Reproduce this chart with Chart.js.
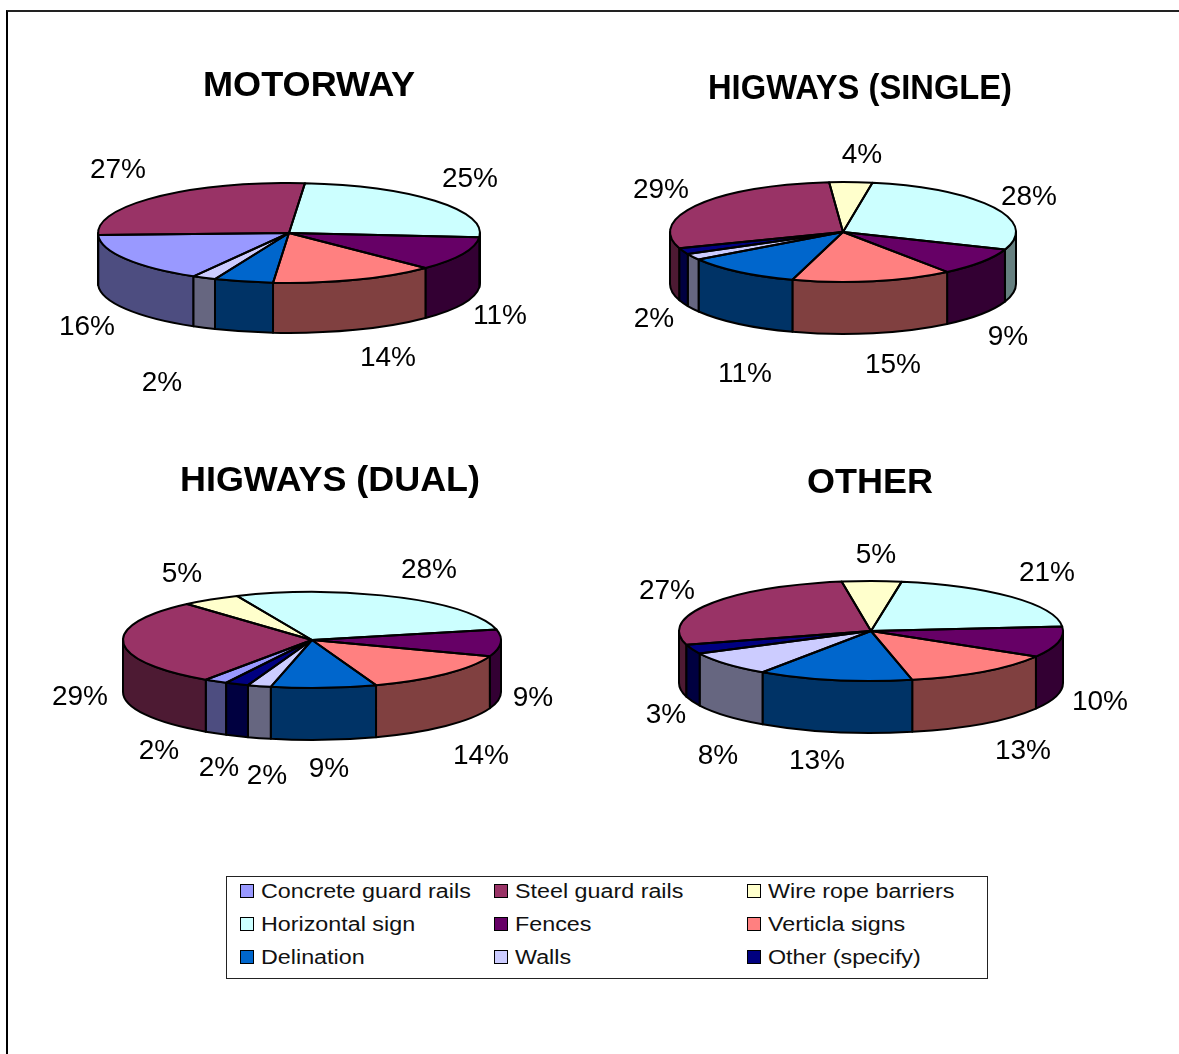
<!DOCTYPE html>
<html>
<head>
<meta charset="utf-8">
<title>Road safety equipment by road type</title>
<script src="https://cdn.jsdelivr.net/npm/chart.js@4"></script>
<style>
  html, body { margin: 0; padding: 0; background: #fff; width: 1179px; height: 1054px; overflow: hidden; }
  #frame { position: absolute; left: 6px; top: 10px; right: 0; bottom: 0; border-left: 2px solid #000; border-top: 2px solid #222; }
  canvas { position: absolute; }
  #legend { position: absolute; left: 226px; top: 876px; width: 760px; height: 101px; border: 1px solid #222; background: #fff; font-family: "Liberation Sans", Arial, sans-serif; color: #111; }
  .key { position: absolute; width: 12px; height: 12px; border: 1px solid #000; }
  .name { position: absolute; font-size: 20px; line-height: 22px; white-space: nowrap; transform-origin: left center; transform: scaleX(1.165); }
</style>
</head>
<body>
<div id="frame"></div>
<canvas id="pie0"></canvas>
<canvas id="pie1"></canvas>
<canvas id="pie2"></canvas>
<canvas id="pie3"></canvas>
<div id="legend"></div>
<script>
// Equipment categories, in series order
const categories = ["Concrete guard rails", "Steel guard rails", "Wire rope barriers", "Horizontal sign", "Fences", "Verticla signs", "Delination", "Walls", "Other (specify)"];
const sliceColors = ["#9999FF", "#993366", "#FFFFCC", "#CCFFFF", "#660066", "#FF8080", "#0066CC", "#CCCCFF", "#000080"];

// Share of each category, per cent, per road type
const motorway = [16, 27, 0, 25, 11, 14, 5, 2, 0];
const highwaysSingle = [0, 29, 4, 28, 9, 15, 11, 2, 2];
const highwaysDual = [2, 29, 5, 28, 9, 14, 9, 2, 2];
const otherRoads = [0, 27, 5, 21, 10, 13, 13, 8, 3];

const titles = ["MOTORWAY", "HIGWAYS (SINGLE)", "HIGWAYS (DUAL)", "OTHER"];

// Page placement of each pie: canvas box, disc centre and radii, wall depth, first-slice angle,
// title position and where each percentage label sits (keyed by category index).
const panels = [
  { id: "pie0", values: motorway, title: titles[0], box: [8, 12, 590, 420], c: [289, 233], r: 191, ry: 50, depth: 50, rot: 210,
    head: [309, 84, 212],
    tags: { 0: [87, 325], 1: [118, 168], 3: [470, 177], 4: [500, 314], 5: [388, 356], 7: [162, 381] } },
  { id: "pie1", values: highwaysSingle, title: titles[1], box: [598, 12, 581, 420], c: [843, 232], r: 173, ry: 50, depth: 52, rot: 251,
    head: [860, 87, 304],
    tags: { 1: [661, 188], 2: [862, 153], 3: [1029, 195], 4: [1008, 335], 5: [893, 363], 6: [745, 372], 8: [654, 317] } },
  { id: "pie2", values: highwaysDual, title: titles[2], box: [8, 432, 590, 420], c: [312, 640], r: 189, ry: 48, depth: 52, rot: 207,
    head: [330, 479, 300],
    tags: { 0: [159, 749], 1: [80, 695], 2: [182, 572], 3: [429, 568], 4: [533, 696], 5: [481, 754], 6: [329, 767], 7: [267, 774], 8: [219, 766] } },
  { id: "pie3", values: otherRoads, title: titles[3], box: [598, 432, 581, 420], c: [871, 631], r: 192, ry: 50, depth: 52, rot: 254,
    head: [870, 481, 126],
    tags: { 1: [667, 589], 2: [876, 553], 3: [1047, 571], 4: [1100, 700], 5: [1023, 749], 6: [817, 759], 7: [718, 754], 8: [666, 713] } }
];

const FONT = '"Liberation Sans", Arial, sans-serif';

function halfTone(hex) {
  const n = parseInt(hex.slice(1), 16);
  const ch = s => Math.round(((n >> s) & 255) / 2);
  return `rgb(${ch(16)},${ch(8)},${ch(0)})`;
}

// Tilts the disc into an ellipse, adds the side wall below it, outlines and labels.
const tiltedPie = {
  id: "tiltedPie",
  beforeDatasetsDraw(chart, args, opts) {
    const ctx = chart.ctx, p = opts.panel;
    const arcs = chart.getDatasetMeta(0).data;
    const k = p.ry / p.r;
    const cx = arcs[0].x, cy = arcs[0].y;
    const draw = [];
    arcs.forEach((a, i) => {
      if (a.endAngle - a.startAngle <= 0) return;
      for (const w of [-2 * Math.PI, 0, 2 * Math.PI]) {
        const s = Math.max(a.startAngle + w, 0), e = Math.min(a.endAngle + w, Math.PI);
        if (e > s) draw.push({ s, e, i });
      }
    });
    ctx.save();
    ctx.lineWidth = 2;
    ctx.strokeStyle = "#000";
    ctx.lineJoin = "round";
    for (const d of draw) {
      ctx.beginPath();
      ctx.ellipse(cx, cy, p.r, p.ry, 0, d.s, d.e);
      ctx.ellipse(cx, cy + p.depth, p.r, p.ry, 0, d.e, d.s, true);
      ctx.closePath();
      ctx.fillStyle = halfTone(sliceColors[d.i]);
      ctx.fill();
      ctx.stroke();
    }
    ctx.restore();
    ctx.save();
    ctx.translate(cx, cy);
    ctx.scale(1, k);
    ctx.translate(-cx, -cy);
  },
  afterDatasetsDraw(chart, args, opts) {
    const ctx = chart.ctx, p = opts.panel;
    ctx.restore();
    ctx.save();
    ctx.lineWidth = 2;
    ctx.strokeStyle = "#000";
    ctx.lineJoin = "round";
    chart.getDatasetMeta(0).data.forEach(a => {
      if (a.endAngle - a.startAngle <= 0) return;
      ctx.beginPath();
      ctx.moveTo(a.x, a.y);
      ctx.ellipse(a.x, a.y, p.r, p.ry, 0, a.startAngle, a.endAngle);
      ctx.closePath();
      ctx.stroke();
    });
    ctx.restore();
  },
  afterDraw(chart, args, opts) {
    const ctx = chart.ctx, p = opts.panel;
    const [bx, by] = p.box;
    ctx.save();
    ctx.textAlign = "center";
    ctx.textBaseline = "middle";
    ctx.fillStyle = "#000";
    // title, fitted to its set width
    ctx.font = "bold 35px " + FONT;
    const [hx, hy, hw] = p.head;
    const m = ctx.measureText(p.title).width;
    ctx.save();
    ctx.translate(hx - bx, hy - by + 2);
    ctx.scale(hw / m, 1);
    ctx.fillText(p.title, 0, 0);
    ctx.restore();
    // percentage labels
    ctx.font = "28px " + FONT;
    for (const [i, pos] of Object.entries(p.tags)) {
      ctx.fillText(p.values[i] + "%", pos[0] - bx, pos[1] - by + 2);
    }
    ctx.restore();
  }
};

Chart.defaults.font.family = FONT;

panels.forEach(p => {
  const [bx, by, bw, bh] = p.box;
  const el = document.getElementById(p.id);
  el.width = bw;
  el.height = bh;
  el.style.left = bx + "px";
  el.style.top = by + "px";
  const rx = p.c[0] - bx, ry = p.c[1] - by;
  new Chart(el, {
    type: "pie",
    data: {
      labels: categories,
      datasets: [{ data: p.values, backgroundColor: sliceColors, borderWidth: 0 }]
    },
    options: {
      responsive: false,
      animation: false,
      rotation: p.rot,
      layout: { padding: { left: rx - p.r, right: bw - rx - p.r, top: ry - p.r, bottom: bh - ry - p.r } },
      plugins: {
        legend: { display: false },
        tooltip: { enabled: false },
        tiltedPie: { panel: p }
      }
    },
    plugins: [tiltedPie]
  });
});
</script>
<script>
// Key below the pies: three columns, three rows
const legendBox = document.getElementById("legend");
const colX = [13, 267, 520];
const rowY = [7, 40, 73];
categories.forEach((name, i) => {
  const col = i % 3, row = Math.floor(i / 3);
  const key = document.createElement("div");
  key.className = "key";
  key.style.left = colX[col] + "px";
  key.style.top = rowY[row] + "px";
  key.style.background = sliceColors[i];
  legendBox.appendChild(key);
  const label = document.createElement("div");
  label.className = "name";
  label.textContent = name;
  label.style.left = (colX[col] + 21) + "px";
  label.style.top = (rowY[row] - 4) + "px";
  legendBox.appendChild(label);
});
</script>
</body>
</html>
